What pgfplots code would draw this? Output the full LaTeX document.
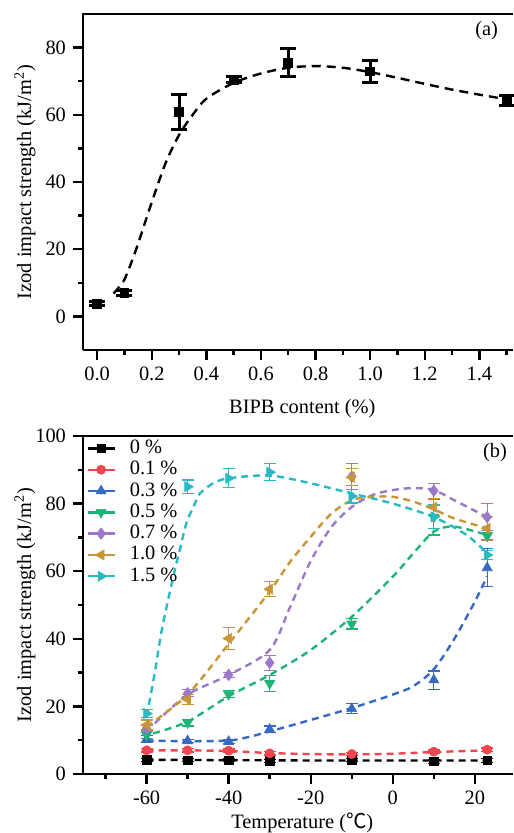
\documentclass[border=0pt]{standalone}
\usepackage{fontspec}
\setmainfont{Liberation Serif}
\newfontfamily\cjk{Noto Sans CJK SC}
\usepackage{pgfplots}
\pgfplotsset{compat=1.18}
\newcommand\fs{\fontsize{10.2}{12}\selectfont}
\definecolor{cRed}{RGB}{240,70,80}
\definecolor{cBlue}{RGB}{55,105,195}
\definecolor{cGreen}{RGB}{30,180,120}
\definecolor{cPurple}{RGB}{155,120,200}
\definecolor{cGold}{RGB}{200,150,55}
\definecolor{cCyan}{RGB}{40,185,195}

\pgfplotsset{
  panel/.style={scale only axis, width=215pt, clip=false,
    axis x line*=bottom, axis y line*=left,
    axis line style={line width=1.4pt},
    tick align=outside,
    major tick length=5pt, minor tick length=2.5pt,
    tick style={black, line width=1.2pt},
    /pgf/number format/assume math mode=true,
    tick label style={font=\fs},
    label style={font=\fs},
  },
  s0/.style={black, mark=square*, mark size=2.1pt, mark options={solid, line width=0.3pt}},
  s1/.style={cRed, mark=*, mark size=2.3pt, mark options={solid, line width=0.3pt}},
  s2/.style={cBlue, mark=triangle*, mark size=2.9pt, mark options={solid, line width=0.3pt}},
  s3/.style={cGreen, mark=triangle*, mark size=2.9pt, mark options={solid, line width=0.3pt, rotate=180}},
  s4/.style={cPurple, mark=diamond*, mark size=2.9pt, mark options={solid, line width=0.3pt}},
  s5/.style={cGold, mark=triangle*, mark size=2.9pt, mark options={solid, line width=0.3pt, rotate=90}},
  s6/.style={cCyan, mark=triangle*, mark size=2.9pt, mark options={solid, line width=0.3pt, rotate=-90}},
  fit/.style={line width=1.2pt, dash pattern=on 3.5pt off 2.5pt, smooth, no markers, forget plot},
  pts/.style={only marks, forget plot, error bars/.cd, y dir=both, y explicit,
    error bar style={line width=0.6pt, solid},
    error mark options={rotate=90, line width=0.6pt, mark size=3pt}},
}

\begin{document}
\begin{tikzpicture}
\path[use as bounding box] (0,0) rectangle (256.5pt,-416.5pt);

% (a) impact strength vs BIPB content
\begin{axis}[panel, at={(41.5pt,-175pt)}, anchor=south west, height=168pt,
  xmin=-0.052, xmax=1.5234, ymin=-10, ymax=90,
  xtick={0,0.2,0.4,0.6,0.8,1.0,1.2,1.4},
  minor xtick={0.1,0.3,0.5,0.7,0.9,1.1,1.3,1.5},
  ytick={0,20,40,60,80}, minor ytick={10,30,50,70},
  xticklabel style={/pgf/number format/.cd, fixed, fixed zerofill, precision=1},
  xlabel={BIPB content (\%)},
  ylabel={Izod impact strength (kJ/m\textsuperscript{2})},
  xlabel style={at={(axis description cs:0.51,-0.173)}, anchor=center},
  ylabel style={at={(axis description cs:-0.135,0.5)}, anchor=center}]
\addplot[black, line width=1.2pt, dash pattern=on 4.5pt off 3pt, smooth] coordinates {
  (0.06,6.8) (0.08,8.7) (0.1,11) (0.125,16) (0.15,21.7) (0.2,34) (0.25,45.5)
  (0.3,54) (0.35,60) (0.4,64.8) (0.5,69.5) (0.6,72.3) (0.7,74) (0.8,74.5)
  (0.9,74) (1.0,72.7) (1.1,71) (1.2,69.2) (1.3,67.5) (1.4,66) (1.5,64.6)};
\addplot[black, only marks, mark=square*, mark size=2.2pt,
  error bars/.cd, y dir=both, y explicit,
  error bar style={line width=1.5pt},
  error mark options={rotate=90, line width=1.5pt, mark size=4pt}] coordinates {
  (0.0,3.8) +- (0,0.6)
  (0.1,7.0) +- (0,0.7)
  (0.3,60.8) +- (0,5.2)
  (0.5,70.5) +- (0,0.9)
  (0.7,75.5) +- (0,4.2)
  (1.0,72.9) +- (0,3.3)
  (1.5,64.2) +- (0,1.5)};
\draw[line width=1.4pt] ([xshift=-0.7pt]rel axis cs:0,1) -- (rel axis cs:1,1);
\node[font=\fs] at (axis cs:1.427,85.1) {(a)};
\end{axis}

% (b) impact strength vs temperature
\begin{axis}[panel, at={(41.5pt,-387pt)}, anchor=south west, height=169pt,
  xmin=-75.5, xmax=29.3, ymin=0, ymax=100,
  xtick={-60,-40,-20,0,20}, minor xtick={-70,-50,-30,-10,10},
  ytick={0,20,40,60,80,100}, minor ytick={10,30,50,70,90},
  xlabel={Temperature ({\cjk ℃})},
  ylabel={Izod impact strength (kJ/m\textsuperscript{2})},
  xlabel style={at={(axis description cs:0.51,-0.145)}, anchor=center},
  ylabel style={at={(axis description cs:-0.135,0.5)}, anchor=center},
  legend image code/.code={\draw[#1, line width=1.2pt, mark repeat=2, mark phase=2]
    plot coordinates {(0pt,0pt) (6.75pt,0pt) (13.5pt,0pt)};},
  legend cell align=left,
  legend style={at={(rel axis cs:0,1)}, anchor=north west, xshift=1.5pt, yshift=-1.5pt,
    draw=none, fill=none, font=\fs, inner sep=0pt, row sep=1.65pt,
    nodes={inner sep=0pt, text height=7pt, text depth=2pt},
    /tikz/every odd column/.append style={column sep=7pt}}]
% 0 %
\addplot[s0, fit] coordinates {(-60,4.2) (-40,4.1) (-20,4.0) (0,4.0) (23,4.0)};
\addplot[s0, pts] coordinates {
  (-60,4.2) +- (0,0.5) (-50,4.1) +- (0,0.5) (-40,4.1) +- (0,0.5) (-30,3.9) +- (0,0.5)
  (-10,4.2) +- (0,0.5) (10,3.7) +- (0,0.5) (23,4.0) +- (0,0.5)};
% 0.1 %
\addplot[s1, fit] coordinates {(-60,7.0) (-50,7.0) (-40,6.8) (-30,6.2) (-20,5.9)
  (-10,5.8) (0,6.0) (10,6.5) (23,7.0)};
\addplot[s1, pts] coordinates {
  (-60,7.0) +- (0,0.5) (-50,7.0) +- (0,0.5) (-40,6.9) +- (0,0.5) (-30,6.1) +- (0,0.5)
  (-10,5.9) +- (0,0.5) (10,6.6) +- (0,0.5) (23,7.2) +- (0,0.5)};
% 0.3 %
\addplot[s2, fit] coordinates {(-60,9.9) (-50,9.7) (-40,9.9) (-35,11) (-30,12.6)
  (-20,16) (-10,19.5) (0,23.5) (5,26) (10,31) (15,40) (20,51) (23,58.5)};
\addplot[s2, pts] coordinates {
  (-60,10.3) +- (0,1) (-50,9.8) +- (0,0.5) (-40,9.6) +- (0,0.5) (-30,13.2) +- (0,1)
  (-10,19.3) +- (0,1.5) (10,27.8) +- (0,2.7) (23,61.0) +- (0,5.6)};
% 0.5 %
\addplot[s3, fit] coordinates {(-58.4,12) (-50,15.5) (-40,23) (-30,29.3) (-20,36.7)
  (-10,46.5) (0,58.4) (5,65.3) (10,71.7) (15,73.2) (23,70.7)};
\addplot[s3, pts] coordinates {
  (-60,11.5) +- (0,1) (-50,15.2) +- (0,1) (-40,23.6) +- (0,1) (-30,26.8) +- (0,2.3)
  (-10,44.4) +- (0,1.5) (10,76.0) +- (0,5.3) (23,70.4) +- (0,1)};
% 0.7 %
\addplot[s4, fit] coordinates {(-58,15) (-50,23.5) (-40,29.3) (-30,36.7) (-25,49.5)
  (-20,63) (-15,73) (-10,79) (-5,82.5) (0,84) (5,84.6) (10,84) (15,81) (23,76)};
\addplot[s4, pts] coordinates {
  (-60,13.5) +- (0,1) (-50,23.9) +- (0,1) (-40,29.3) +- (0,0.8) (-30,32.9) +- (0,2.2)
  (-10,88.0) +- (0,3.8) (10,83.8) +- (0,2.2) (23,76.0) +- (0,4)};
% 1.0 %
\addplot[s5, fit] coordinates {(-60,14) (-50,23.5) (-40,38.5) (-30,54) (-25,62.8)
  (-20,70.2) (-15,77) (-10,81) (-5,82) (0,82) (5,80.6) (10,78.3) (15,75.6) (23,72.7)};
\addplot[s5, pts] coordinates {
  (-60,14.5) +- (0,1.5) (-50,22.1) +- (0,1.5) (-40,40.1) +- (0,3.2) (-30,54.7) +- (0,2.2)
  (-10,87.8) +- (0,2.5) (10,78.9) +- (0,2.5) (23,72.7) +- (0,3.5)};
% 1.5 %
\addplot[s6, fit] coordinates {(-60,17) (-58,30) (-56.3,42.6) (-53.5,58.4) (-51.9,66.3)
  (-50.3,74.2) (-48.2,80.1) (-47,83) (-43.8,86) (-40,87.5) (-30,88.3) (-20,86)
  (-10,83) (0,80) (10,76) (18,70.7) (23,65.3)};
\addplot[s6, pts] coordinates {
  (-60,17.9) +- (0,1.2) (-50,85.0) +- (0,2) (-40,87.5) +- (0,2.8) (-30,89.3) +- (0,2.5)
  (-10,82.2) +- (0,2) (10,76.1) +- (0,3.5) (23,64.8) +- (0,1.3)};
\addlegendimage{s0}\addlegendentry{0 \%}
\addlegendimage{s1}\addlegendentry{0.1 \%}
\addlegendimage{s2}\addlegendentry{0.3 \%}
\addlegendimage{s3}\addlegendentry{0.5 \%}
\addlegendimage{s4}\addlegendentry{0.7 \%}
\addlegendimage{s5}\addlegendentry{1.0 \%}
\addlegendimage{s6}\addlegendentry{1.5 \%}
\draw[line width=1.4pt] ([xshift=-0.7pt]rel axis cs:0,1) -- (rel axis cs:1,1);
\node[font=\fs] at (axis cs:24.9,95) {(b)};
\end{axis}
\end{tikzpicture}
\end{document}
